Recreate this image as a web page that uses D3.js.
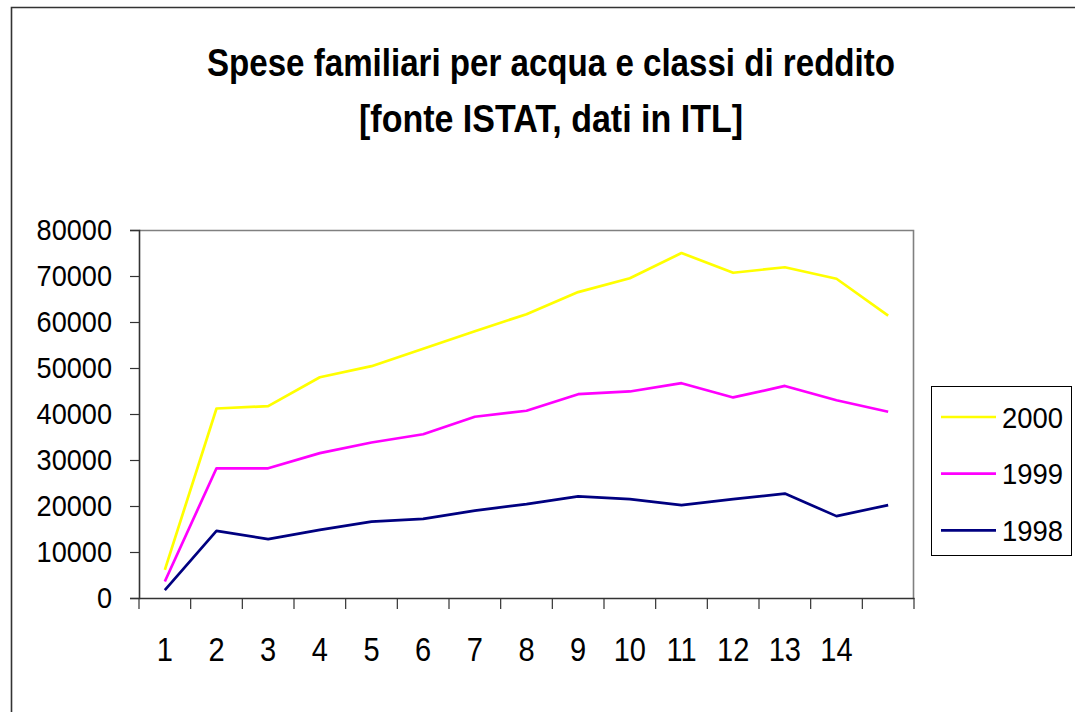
<!DOCTYPE html>
<html>
<head>
<meta charset="utf-8">
<script src="https://cdn.jsdelivr.net/npm/d3@7"></script>
<style>
  html, body { margin: 0; padding: 0; background: #fff; }
  svg { display: block; font-family: "Liberation Sans", Arial, sans-serif; }
</style>
</head>
<body>
<div id="chart"></div>
<script>
// Spese familiari per acqua — three yearly series over income classes.

const categories = ['1','2','3','4','5','6','7','8','9','10','11','12','13','14','15'];
const xLabels    = ['1','2','3','4','5','6','7','8','9','10','11','12','13','14',''];
const yTicks     = [0, 10000, 20000, 30000, 40000, 50000, 60000, 70000, 80000];

const years  = ['2000', '1999', '1998'];
const s2000  = [6100, 41200, 41700, 48000, 50400, 54200, 58000, 61700, 66500, 69500, 75000, 70700, 71900, 69400, 61400];
const s1999  = [3600, 28200, 28200, 31500, 33800, 35600, 39400, 40700, 44300, 44900, 46700, 43600, 46100, 43000, 40500];
const s1998  = [1700, 14600, 12800, 14800, 16600, 17200, 19000, 20400, 22100, 21500, 20200, 21500, 22700, 17800, 20200];
const COLORS = ['#ffff00', '#ff00ff', '#000080'];

const series = [s2000, s1999, s1998];

const W = 1075, H = 712;
const m = { top: 230, right: 161, bottom: 114, left: 139 };
const iW = W - m.left - m.right, iH = H - m.top - m.bottom;

const svg = d3.select('#chart').append('svg').attr('width', W).attr('height', H);

// Outer chart frame (cropped at right and bottom)
svg.append('path')
  .attr('d', `M11.5,${H + 2} V7.5 H${W + 2}`)
  .attr('fill', 'none').attr('stroke', '#333').attr('stroke-width', 1.6);

// Title
const title = svg.append('text').attr('text-anchor', 'middle').attr('font-weight', 700)
  .attr('font-size', 38).attr('fill', '#000');
title.append('tspan').attr('x', 551).attr('y', 76)
  .attr('textLength', 688).attr('lengthAdjust', 'spacingAndGlyphs')
  .text('Spese familiari per acqua e classi di reddito');
title.append('tspan').attr('x', 551).attr('y', 132)
  .attr('textLength', 384).attr('lengthAdjust', 'spacingAndGlyphs')
  .text('[fonte ISTAT, dati in ITL]');

const g = svg.append('g').attr('transform', `translate(${m.left},${m.top})`);

const x = d3.scaleBand().domain(categories).range([0, iW]).padding(0);
const y = d3.scaleLinear().domain([0, 80000]).range([iH, 0]);

// Plot area border (top and right in gray)
g.append('path')
  .attr('d', `M0,0.5 H${iW - 0.5} V${iH}`)
  .attr('fill', 'none').attr('stroke', '#808080').attr('stroke-width', 1.6);

// Y axis
g.append('g')
  .call(d3.axisLeft(y).tickValues(yTicks).tickSize(9).tickPadding(18).tickFormat(d => d))
  .call(a => {
    a.select('.domain').attr('stroke', '#333').attr('stroke-width', 1.6);
    a.selectAll('line').attr('stroke', '#333').attr('stroke-width', 1.2);
    a.selectAll('text').attr('font-size', 29.5).attr('fill', '#000')
      .attr('font-family', '"Liberation Sans", Arial, sans-serif')
      .attr('transform', 'scale(0.92,1)').attr('x', -27 / 0.92);
  });

// X axis: labels centred in bands, tick marks on band edges
g.append('g').attr('transform', `translate(0,${iH})`)
  .call(d3.axisBottom(x).tickSize(0).tickPadding(40).tickFormat((d, i) => xLabels[i]))
  .call(a => {
    a.select('.domain').attr('stroke', '#333').attr('stroke-width', 1.6);
    a.selectAll('text').attr('font-size', 33).attr('fill', '#000')
      .attr('font-family', '"Liberation Sans", Arial, sans-serif')
      .attr('transform', 'scale(0.88,1)');
    a.selectAll('.tick').each(function() {
      const t = d3.select(this);
      const tx = +t.attr('transform').match(/translate\(([-\d.]+)/)[1];
      t.attr('transform', `translate(${tx},0)`);
      t.select('text').attr('x', 0);
    });
  });

const edges = categories.map(c => x(c)).concat([iW]);
g.append('g').selectAll('line').data(edges).enter().append('line')
  .attr('x1', d => d).attr('x2', d => d)
  .attr('y1', iH).attr('y2', iH + 11)
  .attr('stroke', '#333').attr('stroke-width', 1.2);

// Lines
const line = d3.line()
  .x((d, i) => x(categories[i]) + x.bandwidth() / 2)
  .y(d => y(d));

series.slice().reverse().forEach((s, k) => {
  const idx = series.length - 1 - k;
  g.append('path').datum(s)
    .attr('fill', 'none')
    .attr('stroke', COLORS[idx])
    .attr('stroke-width', 2.7)
    .attr('stroke-linejoin', 'round')
    .attr('d', line);
});

// Legend
const legend = svg.append('g').attr('transform', 'translate(931,386)');
legend.append('rect').attr('x', 0.5).attr('y', 0.5).attr('width', 140).attr('height', 169)
  .attr('fill', '#fff').attr('stroke', '#000').attr('stroke-width', 1);
years.forEach((yr, i) => {
  const row = legend.append('g').attr('transform', `translate(0,${31 + i * 56.7})`);
  row.append('line').attr('x1', 10).attr('x2', 65).attr('y1', 0).attr('y2', 0)
    .attr('stroke', COLORS[i]).attr('stroke-width', 2.7);
  row.append('text').attr('x', 71).attr('y', 10.5).attr('font-size', 29).attr('fill', '#000')
    .attr('textLength', 61).attr('lengthAdjust', 'spacingAndGlyphs')
    .text(yr);
});
</script>
</body>
</html>
